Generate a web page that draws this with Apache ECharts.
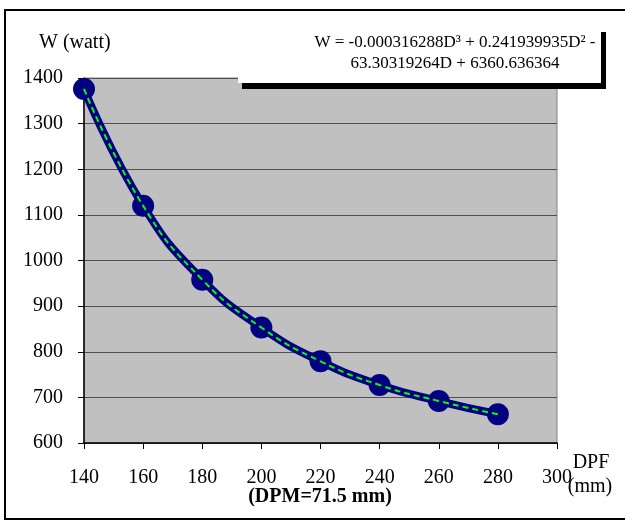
<!DOCTYPE html>
<html>
<head>
<meta charset="utf-8">
<script src="https://cdn.jsdelivr.net/npm/echarts@6/dist/echarts.min.js"></script>
<style>
  html, body { margin: 0; padding: 0; background: #fff; }
  #chart { width: 625px; height: 521px; }
</style>
</head>
<body>
<div id="chart"></div>
<script>
  // values
  var dpf = [140, 160, 180, 200, 220, 240, 260, 280];
  var watt = [1376, 1120, 958, 853, 779, 727, 692, 663];
  var xTicks = [140, 160, 180, 200, 220, 240, 260, 280, 300];
  var yTicks = [600, 700, 800, 900, 1000, 1100, 1200, 1300, 1400];

  var points = dpf.map(function (d, i) { return [d, watt[i]]; });
  var serif = 'Liberation Serif';

  var myChart = echarts.init(document.getElementById('chart'));
  var option = {
    animation: false,
    backgroundColor: '#ffffff',
    textStyle: { fontFamily: serif },
    grid: {
      left: 84, right: 68, top: 78, bottom: 78,
      show: true,
      backgroundColor: '#C0C0C0',
      borderColor: '#808080',
      borderWidth: 1
    },
    xAxis: {
      type: 'value',
      min: xTicks[0],
      max: xTicks[xTicks.length - 1],
      interval: 20,
      axisLine: { show: true, onZero: false, lineStyle: { color: '#000', width: 1.5 } },
      axisTick: { show: true, length: 6, lineStyle: { color: '#000' } },
      axisLabel: { color: '#000', fontSize: 20, fontFamily: serif, margin: 25,
        formatter: function (v) { return String(v); } },
      splitLine: { show: false }
    },
    yAxis: {
      type: 'value',
      min: yTicks[0],
      max: yTicks[yTicks.length - 1],
      interval: 100,
      axisLine: { show: true, lineStyle: { color: '#000', width: 1.5 } },
      axisTick: { show: true, length: 6, lineStyle: { color: '#000' } },
      axisLabel: { color: '#000', fontSize: 20, fontFamily: serif, margin: 21,
        formatter: function (v) { return String(v); } },
      splitLine: { show: true, lineStyle: { color: '#505050', width: 1 } }
    },
    series: [
      {
        type: 'line',
        data: points,
        smooth: 0.5,
        symbol: 'circle',
        symbolSize: 22,
        itemStyle: { color: '#000080' },
        lineStyle: { color: '#000080', width: 8 },
        z: 2
      },
      {
        type: 'line',
        data: points,
        smooth: 0.5,
        symbol: 'none',
        lineStyle: { color: '#00ff00', width: 2, type: [6, 4] },
        z: 3
      }
    ],
    graphic: [
      // outer frame
      { type: 'rect', shape: { x: 5, y: 10, width: 640, height: 509 },
        style: { fill: 'none', stroke: '#000', lineWidth: 2 }, z: 10 },
      // equation box with shadow
      { type: 'rect', shape: { x: 242, y: 32, width: 364, height: 57 },
        style: { fill: '#000' }, z: 10 },
      { type: 'rect', shape: { x: 238, y: 27, width: 363, height: 56 },
        style: { fill: '#fff' }, z: 11 },
      { type: 'text', x: 455, y: 53, z: 12,
        style: {
          text: 'W = -0.000316288D³ + 0.241939935D² -\n63.30319264D + 6360.636364',
          fontFamily: serif, fontSize: 17, lineHeight: 21,
          fill: '#000', align: 'center', verticalAlign: 'middle'
        } },
      { type: 'text', x: 39, y: 43, z: 12,
        style: { text: 'W (watt)', fontFamily: serif, fontSize: 20, fill: '#000',
          align: 'left', verticalAlign: 'middle' } },
      { type: 'text', x: 591, y: 463, z: 12,
        style: { text: 'DPF', fontFamily: serif, fontSize: 20, fill: '#000',
          align: 'center', verticalAlign: 'middle' } },
      { type: 'text', x: 590, y: 487, z: 12,
        style: { text: '(mm)', fontFamily: serif, fontSize: 20, fill: '#000',
          align: 'center', verticalAlign: 'middle' } },
      { type: 'text', x: 320, y: 497, z: 12,
        style: { text: '(DPM=71.5 mm)', fontFamily: serif, fontSize: 20, fontWeight: 'bold',
          fill: '#000', align: 'center', verticalAlign: 'middle' } }
    ]
  };
  myChart.setOption(option);
</script>
</body>
</html>
